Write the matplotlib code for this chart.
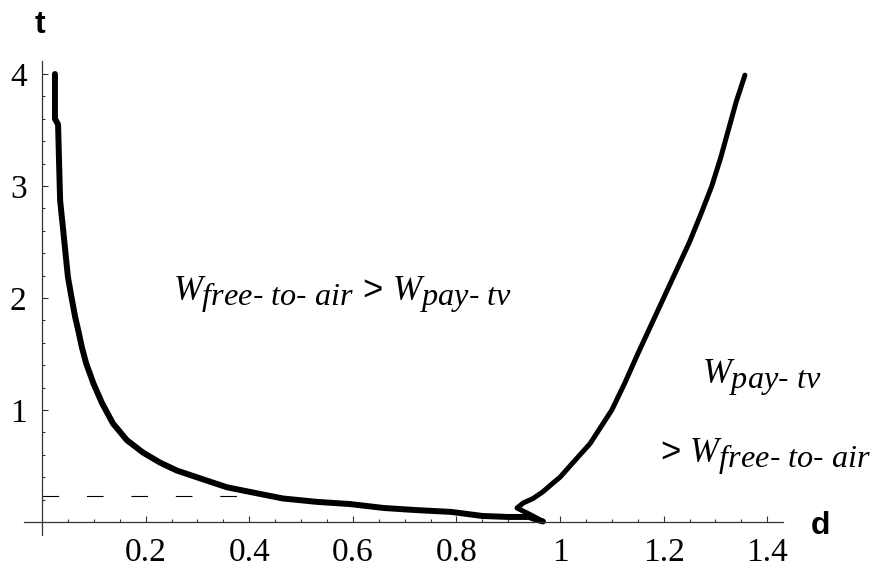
import numpy as np
import matplotlib
matplotlib.use("Agg")
import matplotlib.pyplot as plt
import matplotlib._mathtext as mathtext_mod
from matplotlib.ticker import FixedLocator

plt.rcParams['mathtext.fontset'] = 'custom'
plt.rcParams['mathtext.it'] = 'Liberation Serif:italic'
plt.rcParams['mathtext.rm'] = 'Liberation Sans'
plt.rcParams['mathtext.sf'] = 'Liberation Sans'
# the original sets subscripts at nearly full size, a little lower
mathtext_mod.SHRINK_FACTOR = 0.93
mathtext_mod.FontConstantsBase.subdrop = 0.55

# boundary: left branch (d, t)
left_d = [0.025, 0.025, 0.031, 0.033, 0.035, 0.041, 0.046, 0.050, 0.056, 0.064,
          0.070, 0.077, 0.085, 0.099, 0.116, 0.137, 0.164, 0.195, 0.228, 0.260,
          0.305, 0.357, 0.400, 0.465, 0.530, 0.595, 0.660, 0.720, 0.790, 0.850,
          0.900, 0.940, 0.955, 0.967]
left_t = [4.00, 3.60, 3.55, 3.20, 2.87, 2.60, 2.37, 2.19, 2.03, 1.83,
          1.71, 1.56, 1.42, 1.24, 1.06, 0.88, 0.73, 0.62, 0.53, 0.46,
          0.39, 0.31, 0.27, 0.21, 0.18, 0.16, 0.125, 0.107, 0.09, 0.054,
          0.045, 0.045, 0.02, 0.005]

# right branch (d, t)
right_d = [0.967, 0.945, 0.917, 0.929, 0.948, 0.967, 0.987, 1.000, 1.025, 1.058,
           1.100, 1.125, 1.150, 1.175, 1.200, 1.225, 1.250, 1.272, 1.293, 1.310,
           1.325, 1.340, 1.357]
right_t = [0.005, 0.06, 0.125, 0.17, 0.21, 0.27, 0.35, 0.40, 0.53, 0.70,
           1.00, 1.24, 1.50, 1.75, 2.00, 2.25, 2.50, 2.75, 3.00, 3.25,
           3.50, 3.75, 3.99]

# dashed reference level
dash_t = 0.23
dash_d_end = 0.465

x_ticks = [0.2, 0.4, 0.6, 0.8, 1.0, 1.2, 1.4]
x_labels = ["0.2", "0.4", "0.6", "0.8", "1", "1.2", "1.4"]
y_ticks = [1, 2, 3, 4]
y_labels = ["1", "2", "3", "4"]

fig = plt.figure(figsize=(8.79, 5.70), dpi=100)
ax = fig.add_axes([0, 0, 1, 1])
ax.set_xlim(-0.0811, 1.6158)
ax.set_ylim(-0.4286, 4.661)

ax.plot(left_d, left_t, color="black", lw=4.3, solid_joinstyle="round", solid_capstyle="round")
ax.plot(right_d, right_t, color="black", lw=3.6, solid_joinstyle="round", solid_capstyle="round")
ax.plot([0, dash_d_end], [dash_t, dash_t], color="black", lw=0.8,
        linestyle=(0, (15, 25)))

for side in ("top", "right"):
    ax.spines[side].set_visible(False)
ax.spines["left"].set_position(("data", 0))
ax.spines["bottom"].set_position(("data", 0))
ax.spines["left"].set_bounds(-0.12, 4.12)
ax.spines["bottom"].set_bounds(-0.035, 1.43)
for side in ("left", "bottom"):
    ax.spines[side].set_linewidth(0.9)
    ax.spines[side].set_color("#333333")

ax.set_xticks(x_ticks)
ax.set_xticklabels(x_labels)
ax.set_yticks(y_ticks)
ax.set_yticklabels(y_labels)
ax.xaxis.set_minor_locator(FixedLocator(np.arange(1, 29) * 0.05))
ax.yaxis.set_minor_locator(FixedLocator(np.arange(1, 21) * 0.2))
ax.tick_params(which="both", direction="in", color="#333333", width=0.8)
ax.tick_params(which="major", length=4.5)
ax.tick_params(which="minor", length=2.5)
ax.tick_params(axis="x", which="major", pad=11)
ax.tick_params(axis="y", which="major", pad=11)
for lab in ax.get_xticklabels() + ax.get_yticklabels():
    lab.set_fontfamily("Liberation Serif")
    lab.set_fontsize(24)

ax.text(-0.004, 4.366, "t", fontfamily="Liberation Sans", fontsize=23,
        fontweight="bold", ha="center", va="baseline")
ax.text(1.502, -0.107, "d", fontfamily="Liberation Sans", fontsize=23,
        fontweight="bold", ha="center", va="baseline")

ax.text(0.253, 1.98,
        r"$W_{free\text{-}\ to\text{-}\ air}$ > $W_{pay\text{-}\ tv}$",
        fontfamily="Liberation Sans", fontsize=25, ha="left", va="baseline")
ax.text(1.274, 1.24, r"$W_{pay\text{-}\ tv}$",
        fontfamily="Liberation Sans", fontsize=25, ha="left", va="baseline")
ax.text(1.193, 0.536, r"> $W_{free\text{-}\ to\text{-}\ air}$",
        fontfamily="Liberation Sans", fontsize=25, ha="left", va="baseline")

fig.savefig("out.png", dpi=100)
